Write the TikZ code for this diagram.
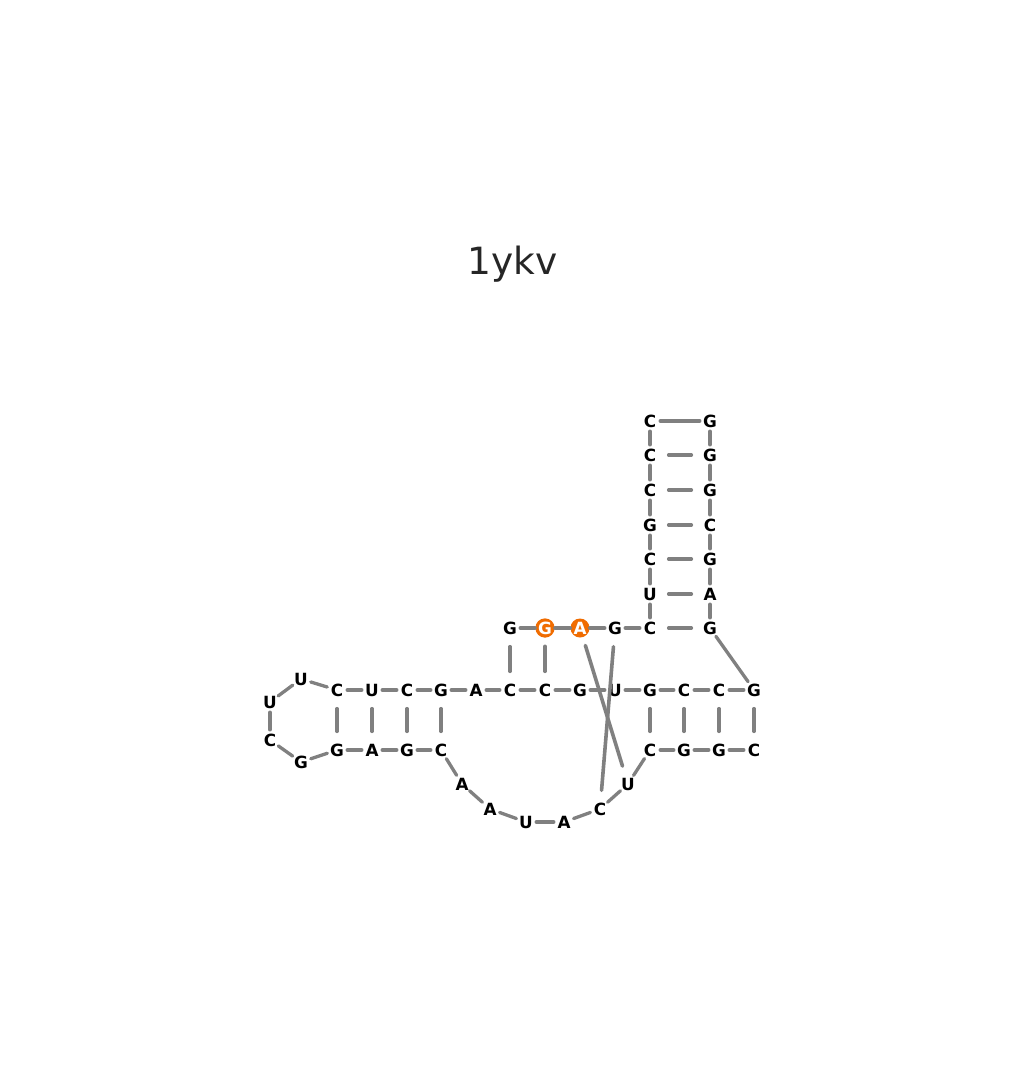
\documentclass[tikz,border=0pt]{standalone}
\usepackage{fontspec}
\setmainfont{DejaVu Sans}
\definecolor{bb}{HTML}{808080}
\definecolor{hl}{RGB}{240,108,0}
\definecolor{ttl}{HTML}{262626}
\tikzset{
  nt/.style={circle,inner sep=0pt,minimum size=20pt,text height=13.5pt,text depth=0pt,
    font=\fontsize{16.8}{16.8}\selectfont\bfseries,text=black},
  hlnt/.style={nt,fill=hl,text=white,minimum size=19pt},
  backbone/.style={draw=bb,line width=3.3pt,line cap=round},
  bpair/.style={draw=bb,line width=3.6pt,line cap=round,shorten <=8.5pt,shorten >=8.5pt},
}
\begin{document}
\begin{tikzpicture}[x=1pt,y=-1pt]
\useasboundingbox[fill=white] (0,0) rectangle (1023,1092);
\node[anchor=base,text=ttl,font=\fontsize{37.5}{37.5}\selectfont] (title) at (512.5,274) {1ykv};
\foreach \i/\b/\x/\y in {
 1/G/510/628, 4/G/615/628, 5/C/650/628,
 6/U/650/594, 7/C/650/559, 8/G/650/525, 9/C/650/490, 10/C/650/455, 11/C/650/421,
 12/G/710/421, 13/G/710/455, 14/G/710/490, 15/C/710/525, 16/G/710/559, 17/A/710/594, 18/G/710/628,
 19/G/754/690, 20/C/719/690, 21/C/684/690, 22/G/650/690, 23/U/615/690, 24/G/580/690,
 25/C/545/690, 26/C/510/690, 27/A/476/690, 28/G/441/690, 29/C/407/690, 30/U/372/690, 31/C/337/690,
 32/U/301/679, 33/U/270/702, 34/C/270/740, 35/G/301/762,
 36/G/337/750, 37/A/372/750, 38/G/407/750, 39/C/441/750,
 40/A/462/784, 41/A/490/809, 42/U/526/822, 43/A/564/822, 44/C/600/809, 45/U/628/784,
 46/C/650/750, 47/G/684/750, 48/G/719/750, 49/C/754/750}
 { \node[nt] (n\i) at (\x,\y) {\b}; }
\node[hlnt] (n2) at (545,628) {G};
\node[hlnt] (n3) at (580,628) {A};
% backbone
\foreach \a [evaluate=\a as \b using int(\a+1)] in {1,...,48}
 { \draw[backbone] (n\a) -- (n\b); }
% base pairs
\foreach \a/\b in {1/26,2/25,3/45,4/44,5/18,6/17,7/16,8/15,9/14,10/13,11/12,
  19/49,20/48,21/47,22/46,28/39,29/38,30/37,31/36}
 { \draw[bpair] (n\a) -- (n\b); }
\end{tikzpicture}
\end{document}
